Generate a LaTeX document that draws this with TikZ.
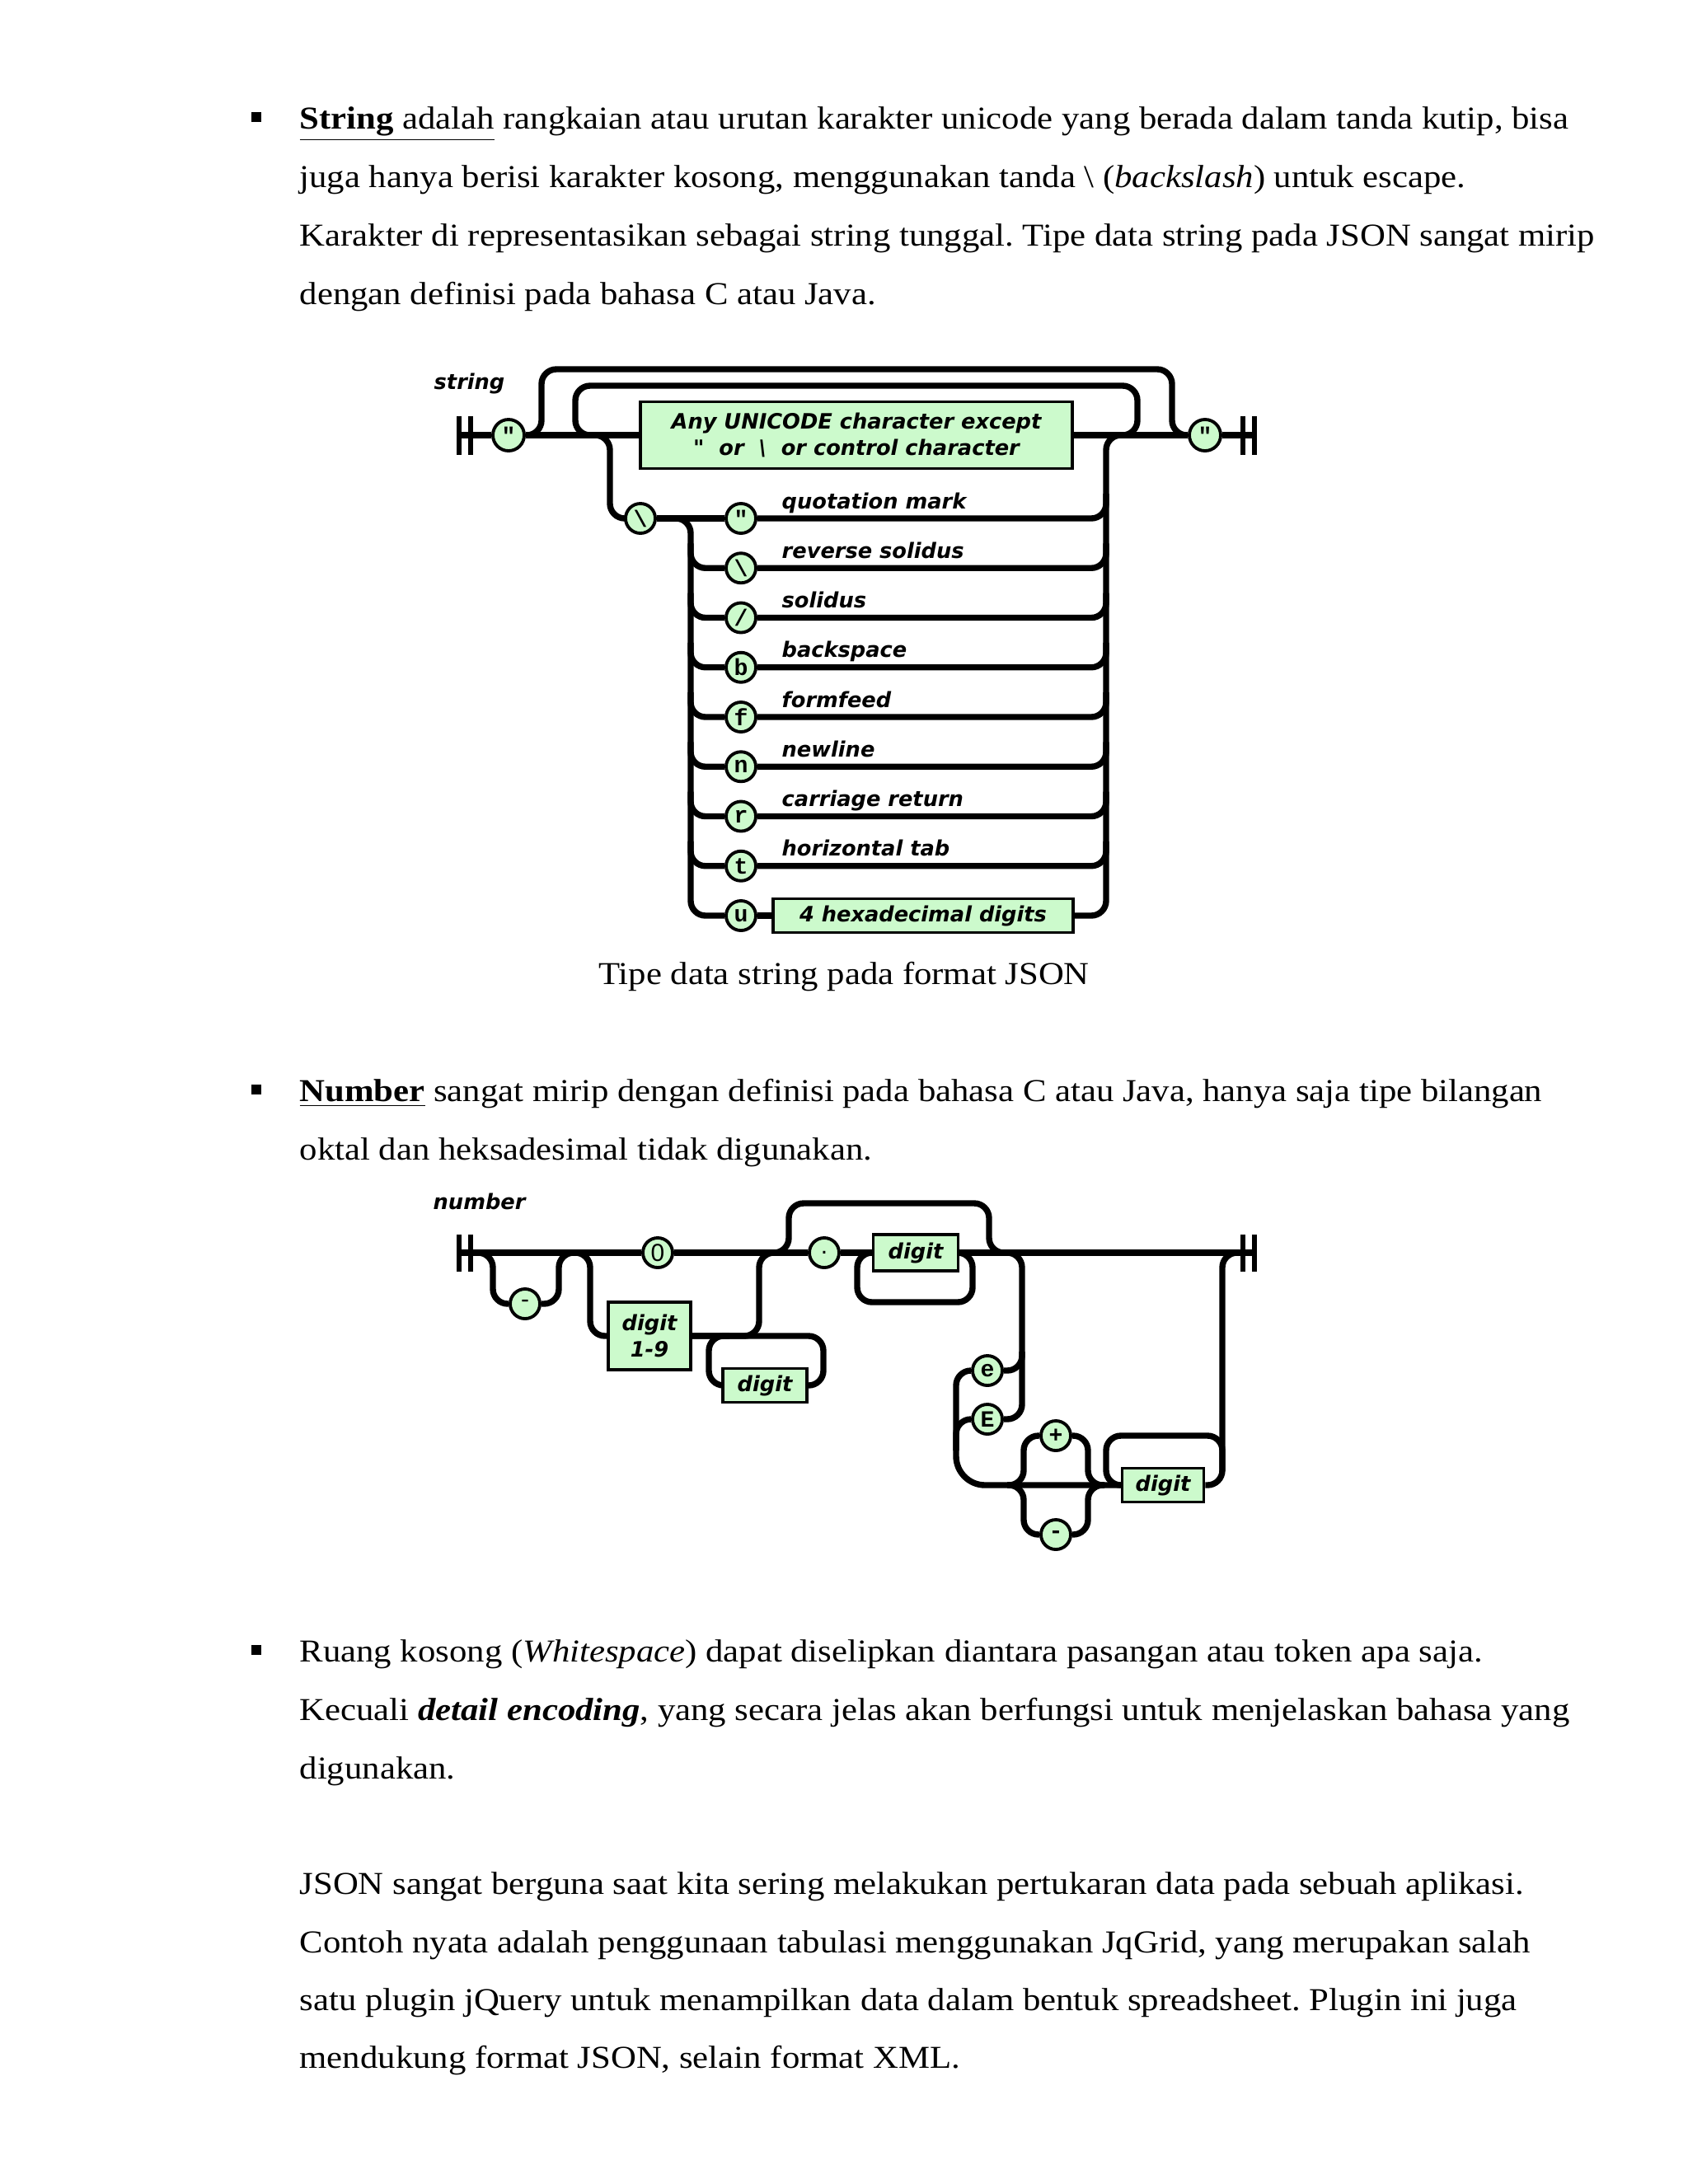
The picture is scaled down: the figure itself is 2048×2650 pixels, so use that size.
\documentclass[tikz,border=0pt]{standalone}
\usepackage{fontspec}
\setmainfont{Liberation Serif}[FakeStretch=1.105]
\setmonofont{Liberation Mono}
\newfontfamily\railfont{DejaVu Sans}[Ligatures=TeXOff]
\newfontfamily\termsans{Liberation Sans}
\usetikzlibrary{backgrounds}
\pgfdeclarelayer{paper}
\pgfsetlayers{paper,background,main}
\frenchspacing
\definecolor{railgreen}{RGB}{204,250,204}
\tikzset{
  rail/.style={line width=2.1pt, rounded corners=5.1pt},
  bar/.style={line width=1.8pt},
  term/.style={circle, draw, line width=1.1pt, fill=railgreen, minimum size=0.36cm,
    inner sep=0pt, font=\ttfamily\bfseries\fontsize{8}{8}\selectfont},
  termsans/.style={font=\termsans\fontsize{8.5}{8.5}\selectfont},
  nonterm/.style={draw, line width=1.1pt, fill=railgreen, inner sep=0pt, align=center,
    font=\railfont\bfseries\itshape\fontsize{7.3}{9}\selectfont},
  railtitle/.style={anchor=base west, inner sep=0pt,
    font=\railfont\bfseries\itshape\fontsize{7.3}{9}\selectfont},
  rowlabel/.style={railtitle},
  body/.style={anchor=base west, inner sep=0pt, font=\fontsize{11}{13}\selectfont},
  bullet/.style={fill=black}
}

\begin{document}
\begin{tikzpicture}[x=0.01cm, y=-0.01cm]
  \useasboundingbox (0,0) rectangle (2048,2650);
  \begin{pgfonlayer}{paper}
    \fill[white] (0,0) rectangle (2048,2650);
  \end{pgfonlayer}

  % first bullet: string
  \fill[bullet] (305,136) rectangle (317,148);
  \node[body] (t1) at (363,156) {\underline{\textbf{String} adalah} rangkaian atau urutan karakter unicode yang berada dalam tanda kutip, bisa};
  \node[body] (t2) at (363,227) {juga hanya berisi karakter kosong, menggunakan tanda \textbackslash\ (\textit{backslash}) untuk escape.};
  \node[body] (t3) at (363,298) {Karakter di representasikan sebagai string tunggal. Tipe data string pada JSON sangat mirip};
  \node[body] (t4) at (363,369) {dengan definisi pada bahasa C atau Java.};

  % string diagram
  \node[railtitle] (stitle) at (526,472) {string};
  \coordinate (sbeg) at (557,528);
  \coordinate (send) at (1522,528);
  \node[term, minimum size=0.38cm] (q1) at (617,528) {"};
  \node[nonterm, minimum width=5.24cm, minimum height=0.81cm] (ubox) at (1039,528)
    {Any UNICODE character except\\"\ \ or\ \ \textbackslash\ \ or control character};
  \node[term, minimum size=0.38cm] (q2) at (1462,528) {"};
  \node[term] (bs) at (777,629) {\textbackslash};
  \foreach \nm/\ch/\lab [count=\k from 0] in {eq/{"}/quotation mark, ebs/\textbackslash/reverse solidus,
      esl/{/}/solidus, eb/b/backspace, ef/f/formfeed, en/n/newline, er/r/carriage return, et/t/horizontal tab}{
    \pgfmathsetmacro\y{629+60.25*\k}
    \node[term] (\nm) at (899,\y) {\ch};
    \node[rowlabel] (l\nm) at (948,\y-12) {\lab};
  }
  \node[term] (eu) at (899,1111) {u};
  \node[nonterm, minimum width=3.63cm, minimum height=0.41cm] (hex) at (1120,1111) {4 hexadecimal digits};

  \node[body, anchor=base] (cap) at (1024,1194) {Tipe data string pada format JSON};

  % second bullet: number
  \fill[bullet] (305,1316) rectangle (317,1328);
  \node[body] (t5) at (363,1336) {\underline{\textbf{Number}} sangat mirip dengan definisi pada bahasa C atau Java, hanya saja tipe bilangan};
  \node[body] (t6) at (363,1407) {oktal dan heksadesimal tidak digunakan.};

  % number diagram
  \node[railtitle] (ntitle) at (525,1467) {number};
  \coordinate (nbeg) at (557,1520);
  \coordinate (nend) at (1522,1520);
  \node[term, termsans] (zero) at (798,1520) {0};
  \node[term, termsans] (neg) at (637,1582) {-};
  \node[nonterm, minimum width=1cm, minimum height=0.82cm] (d19) at (788,1621) {digit\\1-9};
  \node[nonterm, minimum width=1.02cm, minimum height=0.41cm] (dint) at (928,1681) {digit};
  \node[term, termsans] (dot) at (1000,1520) {.};
  \node[nonterm, minimum width=1.03cm, minimum height=0.44cm] (dfrac) at (1111,1520) {digit};
  \node[term] (esm) at (1198,1663) {e};
  \node[term] (ebig) at (1198,1722) {E};
  \node[term] (plus) at (1281,1742) {+};
  \node[term] (minus) at (1281,1862) {-};
  \node[nonterm, minimum width=0.99cm, minimum height=0.41cm] (dexp) at (1411,1802) {digit};

  % third bullet and closing paragraph
  \fill[bullet] (305,1996) rectangle (317,2008);
  \node[body] (t7) at (363,2016) {Ruang kosong (\textit{Whitespace}) dapat diselipkan diantara pasangan atau token apa saja.};
  \node[body] (t8) at (363,2087) {Kecuali \textbf{\textit{detail encoding}}, yang secara jelas akan berfungsi untuk menjelaskan bahasa yang};
  \node[body] (t9) at (363,2158) {digunakan.};
  \node[body] (t10) at (363,2298) {JSON sangat berguna saat kita sering melakukan pertukaran data pada sebuah aplikasi.};
  \node[body] (t11) at (363,2369) {Contoh nyata adalah penggunaan tabulasi menggunakan JqGrid, yang merupakan salah};
  \node[body] (t12) at (363,2439) {satu plugin jQuery untuk menampilkan data dalam bentuk spreadsheet. Plugin ini juga};
  \node[body] (t13) at (363,2509) {mendukung format JSON, selain format XML.};

  \begin{scope}[on background layer]
    % string rails
    \draw[bar] (557,505) -- (557,552) (571,505) -- (571,552);
    \draw[bar] (1508,505) -- (1508,552) (1522,505) -- (1522,552);
    \draw[rail] (sbeg) -- (q1) -- (ubox) -- (q2) -- (send);
    \draw[rail] (q1.east) -| (657,448) -| (1422,528) -- (q2.west);
    \draw[rail] (ubox.east) -| (1380,468) -| (698,528) -- (ubox.west);
    \draw[rail] (q1.east) -| (740,629) -- (bs.west);
    \draw[rail] (bs.east) -| (838,1111) -- (eu.west);
    \draw[rail] (bs) -- (eq);
    \draw[rail] (eu) -- (hex);
    \draw[rail] (hex.east) -| (1342,528) -- (q2.west);
    \foreach \nm [count=\k from 0] in {eq, ebs, esl, eb, ef, en, er, et}{
      \pgfmathsetmacro\y{629+60.25*\k}
      \ifnum\k>0 \draw[rail] (838,\y-30) |- (\nm.west); \fi
      \draw[rail] (\nm.east) -| (1342,\y-30);
    }
    % number rails
    \draw[bar] (557,1498) -- (557,1543) (571,1498) -- (571,1543);
    \draw[bar] (1508,1498) -- (1508,1543) (1522,1498) -- (1522,1543);
    \draw[rail] (nbeg) -- (zero) -- (dot) -- (dfrac) -- (nend);
    \draw[rail] (nbeg) -| (598,1582) -- (neg.west);
    \draw[rail] (neg.east) -| (678,1520) -- (zero.west);
    \draw[rail] (nbeg) -| (716,1621) -- (d19.west);
    \draw[rail] (d19.east) -| (921,1520) -- (dot.west);
    \draw[rail] (d19.east) -| (999,1681) -- (dint.east);
    \draw[rail] (dint.west) -| (860,1621) -- (885,1621);
    \draw[rail] (zero.east) -| (957,1460) -| (1200,1520) -- (nend);
    \draw[rail] (dfrac.east) -| (1180,1580) -| (1040,1520) -- (dfrac.west);
    \draw[rail] (dfrac.east) -| (1240,1722) -- (ebig.east);
    \draw[rail] (1240,1640) |- (esm.east);
    \draw[rail] (esm.west) -| (1160,1740) [rounded corners=10pt] |- (dexp.west);
    \draw[rail] (ebig.west) -| (1160,1760);
    \draw[rail] (1222,1802) -| (1242,1742) -- (plus.west);
    \draw[rail] (plus.east) -| (1320,1802) -- (1340,1802);
    \draw[rail] (1222,1802) -| (1242,1862) -- (minus.west);
    \draw[rail] (minus.east) -| (1320,1802) -- (1340,1802);
    \draw[rail] (dexp.east) -| (1483,1520) -- (nend);
    \draw[rail] (1483,1785) |- (1342,1742) |- (dexp.west);
  \end{scope}
\end{tikzpicture}
\end{document}
